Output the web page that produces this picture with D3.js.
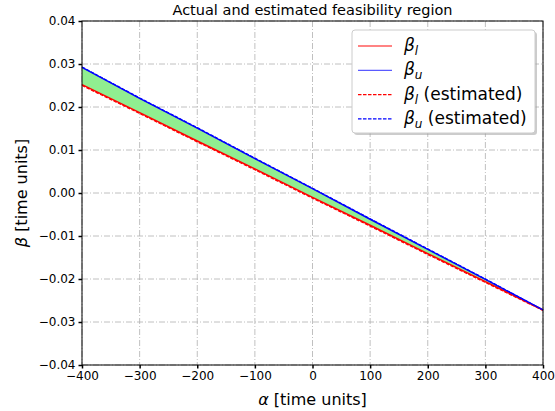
<!DOCTYPE html>
<html><head><meta charset="utf-8">
<script src="https://cdn.jsdelivr.net/npm/d3@7"></script>
<style>body{margin:0;background:#fff}svg{font-family:"DejaVu Sans",sans-serif}</style>
</head><body><svg id="c" width="555" height="411"></svg>
<script>
const alpha = [-400,-300,-200,-100,0,100,200,300,400];
const betaU = [0.0292,0.0220,0.0151,0.0080,0.0010,-0.0061,-0.0131,-0.0201,-0.0272];
const betaL = [0.0252,0.0187,0.0121,0.0056,-0.0010,-0.0075,-0.0141,-0.0206,-0.0272];
const betaUEst = [0.0293,0.0221,0.0152,0.0081,0.0011,-0.0060,-0.0130,-0.0200,-0.0272];
const betaLEst = [0.0250,0.0185,0.0119,0.0054,-0.0012,-0.0077,-0.0143,-0.0208,-0.0273];
const xTicks = [-400,-300,-200,-100,0,100,200,300,400];
const yTicks = [-0.04,-0.03,-0.02,-0.01,0,0.01,0.02,0.03,0.04];

const svg = d3.select("#c");
const L=82,R=543,T=21,B=365;
const x = d3.scaleLinear().domain([-400,400]).range([L,R]);
const y = d3.scaleLinear().domain([-0.04,0.04]).range([B,T]);
const fmtX = d => (d<0?"\u2212":"")+Math.abs(d);
const fmtY = d => (d<0?"\u2212":"")+Math.abs(d).toFixed(2);

const grid = svg.append("g").attr("stroke","#b0b0b0").attr("stroke-width",0.8).attr("stroke-dasharray","6,2,1,2");
xTicks.forEach(t=>grid.append("line").attr("x1",x(t)).attr("x2",x(t)).attr("y1",T).attr("y2",B));
yTicks.forEach(t=>grid.append("line").attr("y1",y(t)).attr("y2",y(t)).attr("x1",L).attr("x2",R));

const idx = d3.range(alpha.length);
svg.append("path").attr("fill","#90ee90")
  .attr("d", d3.area().x(i=>x(alpha[i])).y0(i=>y(betaL[i])).y1(i=>y(betaU[i]))(idx));
const line = arr => d3.line().x(i=>x(alpha[i])).y(i=>y(arr[i]))(idx);
const RED_S="#ff5a5a", BLUE_S="#5a5aff";
svg.append("path").attr("d",line(betaLEst)).attr("fill","none").attr("stroke","#ff0000").attr("stroke-width",1.3).attr("stroke-dasharray","3.5,1.5");
svg.append("path").attr("d",line(betaUEst)).attr("fill","none").attr("stroke","#0000ff").attr("stroke-width",1.3).attr("stroke-dasharray","3.5,1.5");
svg.append("path").attr("d",line(betaL)).attr("fill","none").attr("stroke","#ff0000").attr("stroke-width",1.5);
svg.append("path").attr("d",line(betaU)).attr("fill","none").attr("stroke","#0000ff").attr("stroke-width",1.5);

const xa = svg.append("g").attr("transform",`translate(0,${B})`)
  .call(d3.axisBottom(x).tickValues(xTicks).tickFormat(fmtX).tickSize(3.5).tickPadding(3));
const ya = svg.append("g").attr("transform",`translate(${L},0)`)
  .call(d3.axisLeft(y).tickValues(yTicks).tickFormat(fmtY).tickSize(3.5).tickPadding(3));
[xa,ya].forEach(a=>{a.selectAll("text").attr("font-size",12).attr("fill","#000").attr("font-family","DejaVu Sans");
  a.selectAll("line").attr("stroke","#000").attr("stroke-width",1.5); a.select(".domain").remove();});
svg.append("rect").attr("x",L).attr("y",T).attr("width",R-L).attr("height",B-T).attr("fill","none").attr("stroke","#000").attr("stroke-width",1);

svg.append("text").attr("x",(L+R)/2).attr("y",15).attr("text-anchor","middle").attr("font-size",14.5).text("Actual and estimated feasibility region");
const xl = svg.append("text").attr("x",(L+R)/2).attr("y",405).attr("text-anchor","middle").attr("font-size",16);
xl.append("tspan").attr("font-style","italic").text("\u03b1");
xl.append("tspan").text(" [time units]");
const yl = svg.append("text").attr("transform",`translate(27,${(T+B)/2}) rotate(-90)`).attr("text-anchor","middle").attr("font-size",16);
yl.append("tspan").attr("font-style","italic").text("\u03b2");
yl.append("tspan").text(" [time units]");

// legend
const lg = svg.append("g");
lg.append("rect").attr("x",354).attr("y",32).attr("width",183).attr("height",103).attr("rx",3).attr("fill","#999").attr("opacity",0.5);
lg.append("rect").attr("x",352).attr("y",30).attr("width",183).attr("height",103).attr("rx",3).attr("fill","#fff").attr("stroke","#ccc");
const items = [
  {sub:"l",extra:"",color:RED_S,dash:null},
  {sub:"u",extra:"",color:BLUE_S,dash:null},
  {sub:"l",extra:" (estimated)",color:"#ff0000",dash:"3.5,1.5"},
  {sub:"u",extra:" (estimated)",color:"#0000ff",dash:"3.5,1.5"}];
items.forEach((it,i)=>{
  const yy = 46 + i*24.3;
  const ln = lg.append("line").attr("x1",358).attr("x2",392).attr("y1",yy).attr("y2",yy).attr("stroke",it.color).attr("stroke-width",1.3);
  if(it.dash) ln.attr("stroke-dasharray",it.dash);
  const t = lg.append("text").attr("x",404).attr("y",yy+5).attr("font-size",17);
  t.append("tspan").attr("font-style","italic").text("\u03b2");
  t.append("tspan").attr("font-style","italic").attr("font-size",12).attr("dy",4).text(it.sub);
  t.append("tspan").attr("dy",-4).text(it.extra);
});
</script></body></html>
